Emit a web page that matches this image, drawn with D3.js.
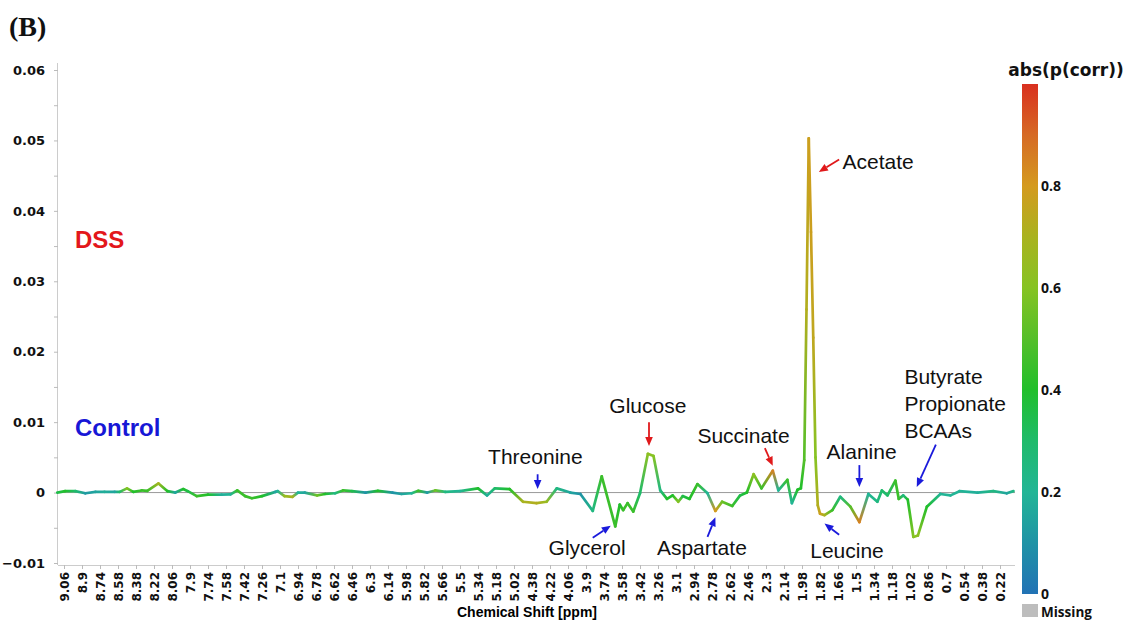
<!DOCTYPE html>
<html>
<head>
<meta charset="utf-8">
<script src="https://cdn.jsdelivr.net/npm/d3@7"></script>
<style>
  body { margin: 0; background: #fff; }
  .tick text { font-family: "DejaVu Sans", Verdana, sans-serif; font-weight: bold; fill: #111; }
  .note { font-family: "Liberation Sans", Arial, sans-serif; font-size: 21px; fill: #111; }
  .cbar { font-family: "Open Sans", sans-serif; font-weight: bold; fill: #111; }
</style>
</head>
<body>
<svg width="1132" height="621"></svg>
<script>
// x axis categories (chemical shift, ppm)
var xTicks = [9.06, 8.9, 8.74, 8.58, 8.38, 8.22, 8.06, 7.9, 7.74, 7.58, 7.42, 7.26, 7.1,
  6.94, 6.78, 6.62, 6.46, 6.3, 6.14, 5.98, 5.82, 5.66, 5.5, 5.34, 5.18, 5.02, 4.38, 4.22,
  4.06, 3.9, 3.74, 3.58, 3.42, 3.26, 3.1, 2.94, 2.78, 2.62, 2.46, 2.3, 2.14, 1.98, 1.82,
  1.66, 1.5, 1.34, 1.18, 1.02, 0.86, 0.7, 0.54, 0.38, 0.22];
var yTicks = [-0.01, 0, 0.01, 0.02, 0.03, 0.04, 0.05, 0.06];
var cTicks = [0, 0.2, 0.4, 0.6, 0.8];

// loading line: shift (ppm), loading value, abs(p(corr))
var shift = [9.12, 9.05, 8.96, 8.87, 8.78, 8.70, 8.61, 8.56, 8.48, 8.41, 8.33, 8.28, 8.18,
  8.10, 8.03, 7.96, 7.92, 7.84, 7.74, 7.62, 7.54, 7.48, 7.41, 7.35, 7.26, 7.14, 7.12, 7.06,
  6.99, 6.94, 6.88, 6.77, 6.70, 6.61, 6.54, 6.46, 6.34, 6.23, 6.10, 6.02, 5.93, 5.87, 5.79,
  5.72, 5.63, 5.50, 5.34, 5.26, 5.19, 5.06, 4.70, 4.34, 4.25, 4.16, 4.04, 3.95, 3.84, 3.76,
  3.64, 3.60, 3.57, 3.53, 3.48, 3.42, 3.35, 3.30, 3.24, 3.18, 3.13, 3.08, 3.04, 2.98, 2.91,
  2.82, 2.75, 2.69, 2.60, 2.53, 2.47, 2.41, 2.34, 2.24, 2.19, 2.11, 2.07, 2.02, 1.99, 1.96,
  1.94, 1.92, 1.90, 1.88, 1.86, 1.84, 1.82, 1.78, 1.71, 1.64, 1.55, 1.47, 1.39, 1.31, 1.27,
  1.22, 1.15, 1.12, 1.08, 1.04, 0.99, 0.95, 0.87, 0.75, 0.66, 0.58, 0.42, 0.28, 0.16, 0.10];
var loading = [0, 0.0002, 0.0002, -0.0001, 0.0001, 0.0001, 0.0001, 0.0001, 0.0006, 0.0001,
  0.0003, 0.00025, 0.0013, 0.0002, 0, 0.0005, 0.0002, -0.0005, -0.0003, -0.0003, -0.00025,
  0.0003, -0.0005, -0.0008, -0.0005, 0.0001, 0.0002, -0.0005, -0.0006, 0, 0, -0.0004,
  -0.0002, -0.0001, 0.0003, 0.0002, 0, 0.00025, 0, -0.0002, -0.0001, 0.00025, 0, 0.0003,
  0.0001, 0.0002, 0.0006, -0.0004, 0.0006, 0.0005, -0.0013, -0.0015, -0.0013, 0.0006, 0,
  -0.0002, -0.0026, 0.0023, -0.0048, -0.0017, -0.0025, -0.0015, -0.0027, -0.0001, 0.0055,
  0.0052, 0.0003, -0.0009, -0.0004, -0.0013, -0.0005, -0.0009, 0.0012, -0.0001, -0.0026,
  -0.0013, -0.0019, -0.0004, 0, 0.0026, 0.0006, 0.0031, 0.0003, 0.0018, -0.0015, 0.0004,
  0.0006, 0.0046, 0.026, 0.0503, 0.037, 0.022, 0.005, -0.0018, -0.003, -0.0032, -0.0025,
  -0.0006, -0.002, -0.0042, -0.0002, -0.0013, 0.0003, -0.0004, 0.0017, -0.0009, -0.0004,
  -0.001, -0.0063, -0.0061, -0.002, -0.0002, -0.0004, 0.0002, 0, 0.0002, -0.0001, 0.0002];
var pcorr = [0.35, 0.4, 0.3, 0.12, 0.15, 0.18, 0.15, 0.3, 0.6, 0.4, 0.45, 0.45, 0.68,
  0.4, 0.15, 0.4, 0.35, 0.45, 0.4, 0.18, 0.2, 0.45, 0.45, 0.45, 0.4, 0.15, 0.2, 0.65,
  0.7, 0.2, 0.15, 0.55, 0.4, 0.25, 0.45, 0.35, 0.1, 0.4, 0.1, 0.15, 0.2, 0.45, 0.12,
  0.55, 0.25, 0.2, 0.4, 0.18, 0.3, 0.4, 0.7, 0.72, 0.65, 0.25, 0.15, 0.1, 0.25, 0.45,
  0.45, 0.4, 0.45, 0.45, 0.45, 0.3, 0.62, 0.6, 0.25, 0.4, 0.4, 0.6, 0.35, 0.4, 0.45,
  0.2, 0.8, 0.55, 0.45, 0.35, 0.4, 0.62, 0.45, 0.85, 0.2, 0.45, 0.2, 0.4, 0.4, 0.5,
  0.72, 0.78, 0.78, 0.75, 0.6, 0.72, 0.78, 0.7, 0.45, 0.25, 0.5, 0.85, 0.2, 0.25, 0.3,
  0.3, 0.45, 0.45, 0.25, 0.4, 0.6, 0.62, 0.4, 0.2, 0.2, 0.2, 0.18, 0.25, 0.15, 0.25];

// colour map for abs(p(corr))
var cStops = [0, 0.1, 0.2, 0.3, 0.4, 0.5, 0.6, 0.7, 0.8, 0.9, 1];
var cColors = ["#2272b5", "#1f93a6", "#22b596", "#1fbb6b", "#21bf2b", "#55bf2a",
  "#86c323", "#a9b31f", "#d49a1e", "#d66a25", "#d9301f"];

// annotations: label lines, text anchor point and arrow (ppm, loading)
var notes = [
  {lines: ["Threonine"], tx: 4.35, ty: 0.0041, anchor: "middle", a: [4.33, 0.0026, 4.33, 0.0005], col: "#1a1adb"},
  {lines: ["Glycerol"], tx: 3.89, ty: -0.0089, anchor: "middle", a: [3.84, -0.0064, 3.68, -0.0047], col: "#1a1adb"},
  {lines: ["Glucose"], tx: 3.35, ty: 0.0113, anchor: "middle", a: [3.34, 0.0100, 3.34, 0.0066], col: "#e0191b"},
  {lines: ["Aspartate"], tx: 2.87, ty: -0.0089, anchor: "middle", a: [2.82, -0.0063, 2.75, -0.0035], col: "#1a1adb"},
  {lines: ["Succinate"], tx: 2.50, ty: 0.0070, anchor: "middle", a: [2.31, 0.0063, 2.24, 0.0038], col: "#e0191b"},
  {lines: ["Acetate"], tx: 1.62, ty: 0.0460, anchor: "start", a: [1.65, 0.0473, 1.83, 0.0455], col: "#e0191b"},
  {lines: ["Alanine"], tx: 1.45, ty: 0.0048, anchor: "middle", a: [1.47, 0.0039, 1.47, 0.0008], col: "#1a1adb"},
  {lines: ["Leucine"], tx: 1.58, ty: -0.0093, anchor: "middle", a: [1.65, -0.0060, 1.78, -0.0044], col: "#1a1adb"},
  {lines: ["Butyrate", "Propionate", "BCAAs"], tx: 1.07, ty: 0.0154, anchor: "start", a: [0.79, 0.0068, 0.96, 0.0008], col: "#1a1adb"}
];

var svg = d3.select("svg");
var x0 = 64, step = 18;
var x = d3.scaleLinear()
  .domain(xTicks)
  .range(xTicks.map(function(d, i) { return x0 + i * step; }));
var y = d3.scaleLinear().domain([-0.01, 0.06]).range([563, 70]);
var color = d3.scaleLinear().domain(cStops).range(cColors);

var left = 58, right = 1015, bottom = 565;

// y axis
var yAxis = svg.append("g")
  .attr("transform", "translate(" + left + ",0)")
  .call(d3.axisLeft(y).tickValues(yTicks).tickSize(4).tickPadding(9)
    .tickFormat(function(d) { return d === 0 ? "0" : d < 0 ? "\u22120.01" : d.toFixed(2); }));
yAxis.selectAll(".tick text").attr("font-size", 13);
yAxis.selectAll(".tick line").attr("stroke", "#bbb");
yAxis.select(".domain").attr("stroke", "#ccc").attr("d", "M-0.5,63V" + bottom);
svg.append("g")
  .attr("transform", "translate(" + left + ",0)")
  .call(d3.axisLeft(y).tickValues(yTicks.slice(1).map(function(d) { return d - 0.005; }))
    .tickSize(4).tickFormat(""))
  .call(function(g) {
    g.select(".domain").remove();
    g.selectAll(".tick line").attr("stroke", "#bbb");
  });

// x axis
var xAxis = svg.append("g")
  .attr("transform", "translate(0," + bottom + ")")
  .call(d3.axisBottom(x).tickValues(xTicks).tickSize(4).tickFormat(function(d) { return String(d); }));
xAxis.select(".domain").attr("stroke", "#ccc").attr("d", "M" + left + ",0.5H" + right);
xAxis.selectAll(".tick line").attr("stroke", "#bbb");
xAxis.selectAll(".tick text")
  .attr("font-size", 12)
  .attr("transform", "rotate(-90)")
  .attr("text-anchor", "end")
  .attr("dy", "0.36em")
  .attr("x", -7)
  .attr("y", 0);

svg.append("text")
  .attr("x", 527).attr("y", 617)
  .attr("text-anchor", "middle")
  .attr("font-family", "Liberation Sans, Arial, sans-serif")
  .attr("font-weight", "bold").attr("font-size", 14)
  .text("Chemical Shift [ppm]");

// zero line
svg.append("line")
  .attr("x1", left).attr("x2", right)
  .attr("y1", y(0)).attr("y2", y(0))
  .attr("stroke", "#999").attr("stroke-width", 1);

// loading line, coloured by abs(p(corr))
var defs = svg.append("defs");
var pts = shift.map(function(s, i) { return [x(s), y(loading[i]), pcorr[i]]; });
var segs = d3.range(pts.length - 1);
segs.forEach(function(i) {
  var g = defs.append("linearGradient")
    .attr("id", "seg" + i)
    .attr("gradientUnits", "userSpaceOnUse")
    .attr("x1", pts[i][0]).attr("y1", pts[i][1])
    .attr("x2", pts[i + 1][0]).attr("y2", pts[i + 1][1]);
  g.append("stop").attr("offset", 0).attr("stop-color", color(pts[i][2]));
  g.append("stop").attr("offset", 1).attr("stop-color", color(pts[i + 1][2]));
});
svg.append("g").selectAll("path")
  .data(segs)
  .enter()
  .append("path")
  .attr("d", function(i) { return d3.line()([pts[i], pts[i + 1]]); })
  .attr("fill", "none")
  .attr("stroke", function(i) { return "url(#seg" + i + ")"; })
  .attr("stroke-width", 2.7)
  .attr("stroke-linecap", "round");

// group labels
svg.append("text").attr("x", 75).attr("y", 248)
  .attr("font-family", "Liberation Sans, Arial, sans-serif").attr("font-weight", "bold")
  .attr("font-size", 24).attr("fill", "#e3171b").text("DSS");
svg.append("text").attr("x", 75).attr("y", 436)
  .attr("font-family", "Liberation Sans, Arial, sans-serif").attr("font-weight", "bold")
  .attr("font-size", 24).attr("fill", "#1717d6").text("Control");

// panel letter
svg.append("text").attr("x", 9).attr("y", 36)
  .attr("font-family", "Liberation Serif, Times New Roman, serif").attr("font-weight", "bold")
  .attr("font-size", 28).attr("fill", "#111").text("(B)");

// annotations
function arrow(a, col) {
  var x1 = x(a[0]), y1 = y(a[1]), x2 = x(a[2]), y2 = y(a[3]);
  var ang = Math.atan2(y2 - y1, x2 - x1), L = 9, W = 3.8;
  var bx = x2 - L * Math.cos(ang), by = y2 - L * Math.sin(ang);
  svg.append("line").attr("x1", x1).attr("y1", y1).attr("x2", bx).attr("y2", by)
    .attr("stroke", col).attr("stroke-width", 1.8);
  svg.append("path")
    .attr("d", "M" + x2 + "," + y2 +
      "L" + (bx + W * Math.sin(ang)) + "," + (by - W * Math.cos(ang)) +
      "L" + (bx - W * Math.sin(ang)) + "," + (by + W * Math.cos(ang)) + "Z")
    .attr("fill", col);
}
notes.forEach(function(n) {
  var t = svg.append("text").attr("class", "note")
    .attr("x", x(n.tx)).attr("y", y(n.ty)).attr("text-anchor", n.anchor);
  n.lines.forEach(function(l, i) {
    t.append("tspan").attr("x", x(n.tx)).attr("dy", i ? 27 : 0).text(l);
  });
  arrow(n.a, n.col);
});

// colour bar
var cy = d3.scaleLinear().domain([0, 1]).range([594, 84]);
var grad = defs.append("linearGradient").attr("id", "cbar")
  .attr("x1", 0).attr("y1", 1).attr("x2", 0).attr("y2", 0);
cStops.forEach(function(s, i) {
  grad.append("stop").attr("offset", s).attr("stop-color", cColors[i]);
});
svg.append("rect").attr("x", 1022).attr("y", cy(1)).attr("width", 16)
  .attr("height", cy(0) - cy(1)).attr("fill", "url(#cbar)");
svg.append("g").selectAll("text")
  .data(cTicks)
  .enter()
  .append("text")
  .attr("class", "cbar")
  .attr("x", 1041).attr("y", function(d) { return cy(d) + 5; })
  .attr("font-size", 14)
  .text(function(d) { return d === 0 ? "0" : d.toFixed(1); });
svg.append("text")
  .attr("x", 1066).attr("y", 76).attr("text-anchor", "middle")
  .attr("font-family", "DejaVu Sans, sans-serif").attr("font-weight", "bold")
  .attr("font-size", 17).attr("fill", "#111").text("abs(p(corr))");
svg.append("rect").attr("x", 1022).attr("y", 604).attr("width", 16).attr("height", 13)
  .attr("fill", "#bdbdbd");
svg.append("text").attr("class", "cbar")
  .attr("x", 1041).attr("y", 617).attr("font-size", 13.5).text("Missing");
</script>
</body>
</html>
